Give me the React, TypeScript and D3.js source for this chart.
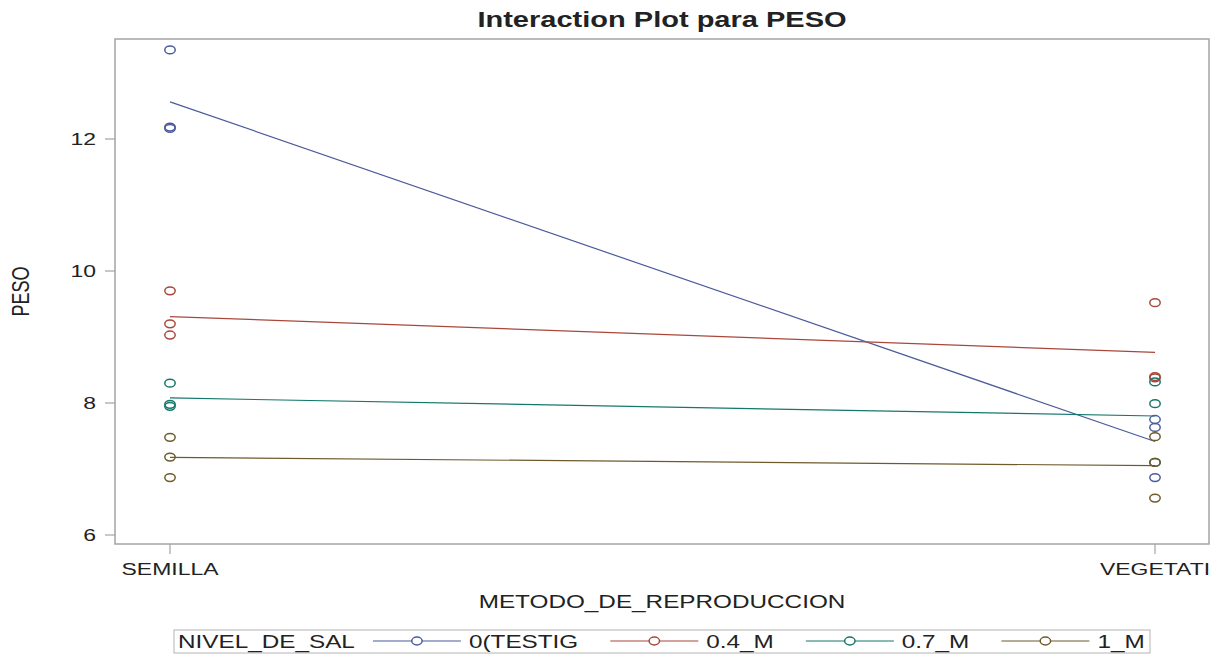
import React from 'react';
import * as d3 from 'd3';

const methods = ['SEMILLA', 'VEGETATI'];
const levels = ['0(TESTIG', '0.4_M', '0.7_M', '1_M'];
const semillaValues = [
  [13.35, 12.18, 12.16],
  [9.7, 9.2, 9.03],
  [8.3, 7.98, 7.95],
  [7.48, 7.18, 6.87],
];
const vegetatiValues = [
  [7.75, 7.63, 6.87],
  [9.52, 8.4, 8.38],
  [8.32, 7.99, 7.1],
  [7.49, 7.1, 6.56],
];
const yTicks = [6, 8, 10, 12];
const colors = ['#4b5b9b', '#a8473b', '#15776b', '#6e5a2c'];

const W = 1219;
const H = 656;
const FRAME = { left: 115, right: 1209, top: 39, bottom: 544 };
const SX = 1.35;
const FONT = '"Liberation Sans", Arial, sans-serif';

function measure(text: string, size: number, weight = 'normal') {
  const c = document.createElement('canvas');
  const ctx = c.getContext('2d')!;
  ctx.font = `${weight} ${size}px "Liberation Sans"`;
  return ctx.measureText(text).width * SX;
}

function T({ x, y, children, size = 18, anchor = 'start', weight = 'normal', rotate = 0 }: any) {
  return (
    <text
      transform={`translate(${x},${y}) scale(${SX},1)${rotate ? ` rotate(${rotate})` : ''}`}
      fontSize={size}
      fontFamily={FONT}
      fontWeight={weight}
      textAnchor={anchor}
      fill="#222"
    >
      {children}
    </text>
  );
}

export default function App() {
  const x = d3.scalePoint<string>().domain(methods).range([170, 1155]);
  const y = d3.scaleLinear().domain([6, 12]).range([535, 139]);
  const groups = [semillaValues, vegetatiValues];
  const line = d3
    .line<[string, number]>()
    .x((d) => x(d[0])!)
    .y((d) => y(d[1]));

  const legendFont = 18;
  const titleW = measure('NIVEL_DE_SAL', legendFont);
  let cx = 178 + titleW + 18;
  const legendItems = levels.map((lv, i) => {
    const ls = cx;
    const le = cx + 88;
    const lx = le + 8;
    cx = lx + measure(lv, legendFont) + 32;
    return { lv, i, ls, le, lx };
  });
  const legY = 641;

  return (
    <svg width={W} height={H} style={{ position: 'absolute', left: 0, top: 0, background: '#fff' }}>
      <rect x={0} y={0} width={W} height={H} fill="#fff" />
      <T x={(FRAME.left + FRAME.right) / 2} y={27} size={21.5} anchor="middle" weight="bold">
        Interaction Plot para PESO
      </T>
      <rect
        x={FRAME.left}
        y={FRAME.top}
        width={FRAME.right - FRAME.left}
        height={FRAME.bottom - FRAME.top}
        fill="none"
        stroke="#a4a4a4"
        strokeWidth={1.5}
      />
      {yTicks.map((t) => (
        <g key={t}>
          <line x1={FRAME.left - 10} x2={FRAME.left} y1={y(t)} y2={y(t)} stroke="#a4a4a4" strokeWidth={1.2} />
          <T x={96} y={y(t) + 6} size={17} anchor="end">
            {t}
          </T>
        </g>
      ))}
      <T x={29} y={(FRAME.top + FRAME.bottom) / 2} size={18} anchor="middle" rotate={-90}>
        PESO
      </T>
      {methods.map((m) => (
        <g key={m}>
          <line x1={x(m)} x2={x(m)} y1={FRAME.bottom} y2={FRAME.bottom + 10} stroke="#a4a4a4" strokeWidth={1.2} />
          <T x={x(m)} y={575} size={17} anchor="middle">
            {m}
          </T>
        </g>
      ))}
      <T x={(FRAME.left + FRAME.right) / 2} y={608} size={18} anchor="middle">
        METODO_DE_REPRODUCCION
      </T>
      {levels.map((lv, i) => {
        const pts: [string, number][] = methods.map((m, j) => [m, d3.mean(groups[j][i])!]);
        return <path key={lv} d={line(pts)!} fill="none" stroke={colors[i]} strokeWidth={1.2} />;
      })}
      {levels.map((lv, i) =>
        methods.map((m, j) =>
          groups[j][i].map((v, k) => (
            <ellipse
              key={`${i}-${j}-${k}`}
              cx={x(m)}
              cy={y(v)}
              rx={5.2}
              ry={3.9}
              fill="none"
              stroke={colors[i]}
              strokeWidth={1.5}
            />
          ))
        )
      )}
      <rect x={174} y={630} width={1150 - 174} height={23} fill="none" stroke="#b4b4b4" strokeWidth={1} />
      <T x={178} y={legY + 6.5} size={legendFont}>
        NIVEL_DE_SAL
      </T>
      {legendItems.map((it) => (
        <g key={it.lv}>
          <line x1={it.ls} x2={it.le} y1={legY} y2={legY} stroke={colors[it.i]} strokeWidth={1.2} />
          <ellipse cx={(it.ls + it.le) / 2} cy={legY} rx={5.2} ry={3.9} fill="#fff" stroke={colors[it.i]} strokeWidth={1.5} />
          <T x={it.lx} y={legY + 6.5} size={legendFont}>
            {it.lv}
          </T>
        </g>
      ))}
    </svg>
  );
}
